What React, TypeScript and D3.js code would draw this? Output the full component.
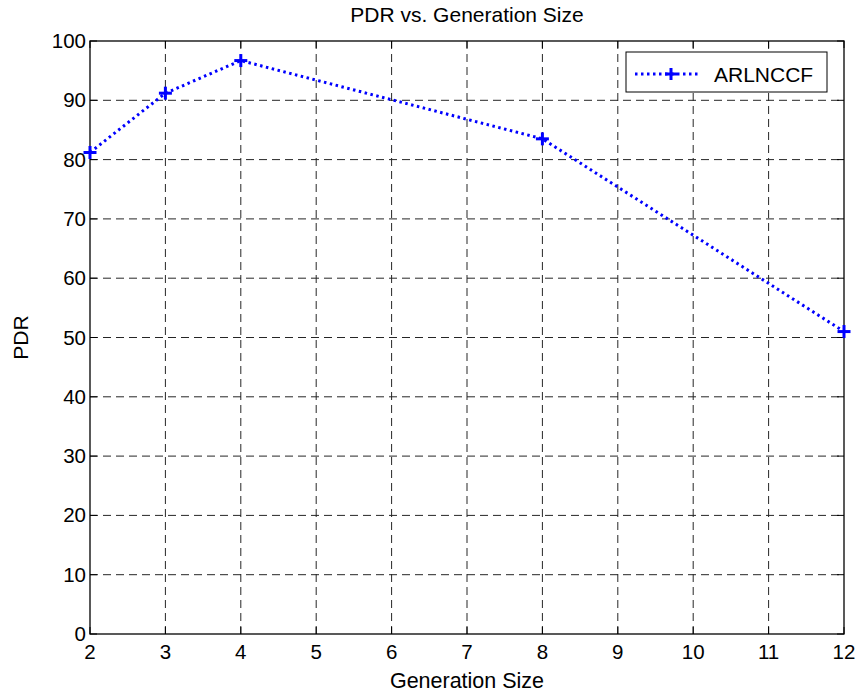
import React from "react";
import * as d3 from "d3";

const xValues = [2, 3, 4, 8, 12];
const pdrValues = [81.2, 91.2, 96.7, 83.5, 51.0];
const xTicks = [2, 3, 4, 5, 6, 7, 8, 9, 10, 11, 12];
const yTicks = [0, 10, 20, 30, 40, 50, 60, 70, 80, 90, 100];
const seriesName = "ARLNCCF";

export default function App() {
  const W = 859, H = 696;
  const left = 90, right = 844, top = 41, bottom = 634;
  const x = d3.scaleLinear().domain([2, 12]).range([left, right]);
  const y = d3.scaleLinear().domain([0, 100]).range([bottom, top]);
  const line = d3.line<number>().x((_, i) => x(xValues[i])).y((d) => y(d));
  const font = "'Liberation Sans', Arial, sans-serif";
  const blue = "#0000ff";
  const tickLen = 7;
  const plus = (cx: number, cy: number, k: string, s = 6.5) => (
    <g key={k} stroke={blue} strokeWidth={3}>
      <line x1={cx - s} x2={cx + s} y1={cy} y2={cy} />
      <line x1={cx} x2={cx} y1={cy - s} y2={cy + s} />
    </g>
  );
  return (
    <svg width={W} height={H} style={{ position: "absolute", left: 0, top: 0, background: "#fff" }} fontFamily={font}>
      <rect x={0} y={0} width={W} height={H} fill="#fff" />
      {/* grid */}
      <g stroke="#000" strokeWidth={1} strokeDasharray="8,5" opacity={0.85}>
        {xTicks.slice(1, -1).map((t) => (
          <line key={"gx" + t} x1={x(t)} x2={x(t)} y1={top} y2={bottom} />
        ))}
        {yTicks.slice(1, -1).map((t) => (
          <line key={"gy" + t} x1={left} x2={right} y1={y(t)} y2={y(t)} />
        ))}
      </g>
      {/* ticks */}
      <g stroke="#000" strokeWidth={1}>
        {xTicks.map((t) => (
          <g key={"tx" + t}>
            <line x1={x(t)} x2={x(t)} y1={bottom} y2={bottom - tickLen} />
            <line x1={x(t)} x2={x(t)} y1={top} y2={top + tickLen} />
          </g>
        ))}
        {yTicks.map((t) => (
          <g key={"ty" + t}>
            <line x1={left} x2={left + tickLen} y1={y(t)} y2={y(t)} />
            <line x1={right} x2={right - tickLen} y1={y(t)} y2={y(t)} />
          </g>
        ))}
      </g>
      <rect x={left} y={top} width={right - left} height={bottom - top} fill="none" stroke="#000" strokeWidth={1.3} />
      {/* tick labels */}
      <g fontSize={20.5} fill="#000">
        {xTicks.map((t) => (
          <text key={"lx" + t} x={x(t)} y={bottom + 25} textAnchor="middle">{t}</text>
        ))}
        {yTicks.map((t) => (
          <text key={"ly" + t} x={left - 4} y={y(t) + 7} textAnchor="end">{t}</text>
        ))}
      </g>
      {/* data */}
      <path d={line(pdrValues) || ""} fill="none" stroke={blue} strokeWidth={3} strokeDasharray="2.5,3.5" />
      {pdrValues.map((v, i) => plus(x(xValues[i]), y(v), "m" + i))}
      {/* legend */}
      <rect x={626} y={52} width={201} height={40} fill="#fff" stroke="#000" strokeWidth={1} />
      <line x1={635} x2={698} y1={74} y2={74} stroke={blue} strokeWidth={3} strokeDasharray="2.5,3.5" />
      {plus(671, 74, "lg", 6)}
      <text x={714} y={81.5} fontSize={21}>{seriesName}</text>
      {/* titles */}
      <text x={(left + right) / 2} y={22} textAnchor="middle" fontSize={21}>PDR vs. Generation Size</text>
      <text x={(left + right) / 2} y={688} textAnchor="middle" fontSize={21.5}>Generation Size</text>
      <text transform={`translate(28, ${(top + bottom) / 2}) rotate(-90)`} textAnchor="middle" fontSize={21}>PDR</text>
    </svg>
  );
}
